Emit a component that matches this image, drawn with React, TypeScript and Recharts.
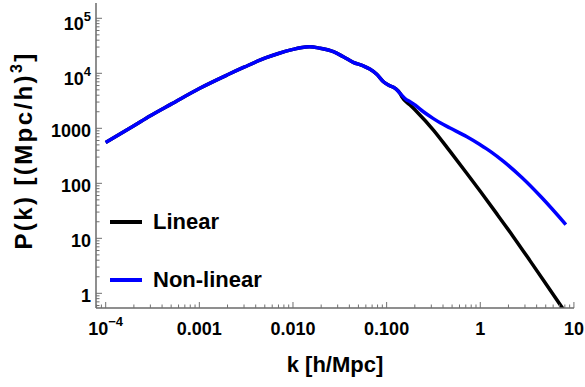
import React from "react";
import { LineChart, Line, XAxis, YAxis, Legend } from "recharts";

// ---- data ----
// shared part of both spectra (k in h/Mpc, P in (Mpc/h)^3)
const sharedK = [0.0001, 0.0002, 0.0003, 0.0005, 0.001, 0.002, 0.003, 0.005, 0.007, 0.01, 0.012, 0.015, 0.0195, 0.027, 0.0345, 0.044, 0.0565, 0.0667, 0.0785, 0.0925, 0.1045, 0.1233, 0.139];
const sharedP = [550, 1110, 1690, 2750, 5300, 9400, 12900, 18800, 22900, 27200, 29200, 30500, 28500, 24700, 20000, 15850, 13600, 11800, 9600, 7030, 6120, 5340, 4330];

const linearTailK = [0.145, 0.178, 0.21, 0.316, 0.476, 0.72, 1.0, 1.51, 2.27, 3.42, 7.45, 8.2];
const linearTailP = [3760, 2650, 2000, 930, 380, 151, 71.6, 27.5, 10.5, 3.85, 0.556, 0.44];

const nonlinearTailK = [0.164, 0.178, 0.201, 0.247, 0.316, 0.373, 0.476, 0.72, 1.0, 1.28, 1.77, 2.8, 4.5, 8.2];
const nonlinearTailP = [3270, 3050, 2650, 2000, 1500, 1260, 1012, 700, 501, 381, 250, 126, 55.7, 17.8];

const seriesNames = ["Linear", "Non-linear"];
const seriesColors = ["#000000", "#0000ff"];

const xMajorTicks = [0.0001, 0.001, 0.01, 0.1, 1, 10];
const xTickBase = ["10", "0.001", "0.010", "0.100", "1", "10"];
const xTickExp = ["\u22124", "", "", "", "", ""];

const yMajorTicks = [1, 10, 100, 1000, 10000, 100000];
const yTickBase = ["1", "10", "100", "1000", "10", "10"];
const yTickExp = ["", "", "", "", "4", "5"];

const minorMultipliers = [2, 3, 4, 5, 6, 7, 8, 9];
const xDecades = [0.00001, 0.0001, 0.001, 0.01, 0.1, 1];
const yDecades = [0.1, 1, 10, 100, 1000, 10000, 100000];

const xDomain: [number, number] = [7.88e-5, 10.02];
const yDomain: [number, number] = [0.541, 189700];

const xMinorTicks = xDecades
  .flatMap((d) => minorMultipliers.map((m) => +(d * m).toPrecision(3)))
  .filter((v) => v >= xDomain[0] && v <= xDomain[1]);
const yMinorTicks = yDecades
  .flatMap((d) => minorMultipliers.map((m) => +(d * m).toPrecision(3)))
  .filter((v) => v >= yDomain[0] && v <= yDomain[1]);

const xAllTicks = [...xMajorTicks, ...xMinorTicks].sort((a, b) => a - b);
const yAllTicks = [...yMajorTicks, ...yMinorTicks].sort((a, b) => a - b);

const linearAllP = [...sharedP, ...linearTailP];
const nonlinearAllP = [...sharedP, ...nonlinearTailP];
const linearData = [...sharedK, ...linearTailK].map((k, i) => ({ k, p: linearAllP[i] }));
const nonlinearData = [...sharedK, ...nonlinearTailK].map((k, i) => ({ k, p: nonlinearAllP[i] }));

const FONT = "'Liberation Sans', Arial, Helvetica, sans-serif";
const FRAME = "#6a6a6a";
const TICK = "#707070";
const MAJOR_LEN = 6;
const MINOR_LEN = 3.5;

const BottomTick = (props: any) => {
  const { x, y, payload } = props;
  const idx = xMajorTicks.indexOf(payload.value);
  const major = idx >= 0;
  return (
    <g>
      <line x1={x} y1={y} x2={x} y2={y - (major ? MAJOR_LEN : MINOR_LEN)} stroke={TICK} strokeWidth={1} />
      {major && (
        <text x={x} y={y + 27} textAnchor="middle" fontFamily={FONT} fontWeight="bold" fontSize={18} fill="#000">
          {xTickBase[idx]}
          {xTickExp[idx] && (
            <tspan dy={-9} fontSize={13}>
              {xTickExp[idx]}
            </tspan>
          )}
        </text>
      )}
    </g>
  );
};

const TopTick = (props: any) => {
  const { x, y, payload } = props;
  const major = xMajorTicks.indexOf(payload.value) >= 0;
  return <line x1={x} y1={y} x2={x} y2={y + (major ? MAJOR_LEN : MINOR_LEN)} stroke={TICK} strokeWidth={1} />;
};

const LeftTick = (props: any) => {
  const { x, y, payload } = props;
  const idx = yMajorTicks.indexOf(payload.value);
  const major = idx >= 0;
  const hasExp = major && yTickExp[idx] !== "";
  return (
    <g>
      <line x1={x} y1={y} x2={x + (major ? MAJOR_LEN : MINOR_LEN)} y2={y} stroke={TICK} strokeWidth={1} />
      {major && (
        <text x={x - 5} y={y + (hasExp ? 11.5 : 9)} textAnchor="end" fontFamily={FONT} fontWeight="bold" fontSize={18} fill="#000">
          {yTickBase[idx]}
          {hasExp && (
            <tspan dy={-9} fontSize={13}>
              {yTickExp[idx]}
            </tspan>
          )}
        </text>
      )}
    </g>
  );
};

const RightTick = (props: any) => {
  const { x, y, payload } = props;
  const major = yMajorTicks.indexOf(payload.value) >= 0;
  return <line x1={x} y1={y} x2={x - (major ? MAJOR_LEN : MINOR_LEN)} y2={y} stroke={TICK} strokeWidth={1} />;
};

const XLabel = (props: any) => {
  const vb = props.viewBox || { x: 96, y: 308, width: 478, height: 79 };
  return (
    <text x={vb.x + vb.width / 2} y={vb.y + 64} textAnchor="middle" fontFamily={FONT} fontWeight="bold" fontSize={22} fill="#000">
      k [h/Mpc]
    </text>
  );
};

const YLabel = (props: any) => {
  const vb = props.viewBox || { x: 0, y: 3, width: 96, height: 305 };
  const cx = vb.x + 32;
  const cy = vb.y + vb.height / 2 - 5;
  return (
    <text transform={`translate(${cx},${cy}) rotate(-90)`} textAnchor="middle" fontFamily={FONT} fontWeight="bold" fontSize={24} letterSpacing={2.4} fill="#000">
      P(k) [(Mpc/h)
      <tspan dy={-10} fontSize={16}>
        3
      </tspan>
      <tspan dy={10}>]</tspan>
    </text>
  );
};

const LegendContent = (props: any) => {
  const payload = props.payload || [];
  return (
    <div style={{ fontFamily: FONT, fontWeight: "bold", fontSize: 22 }}>
      {payload.map((entry: any, i: number) => (
        <div key={i} style={{ display: "flex", alignItems: "center", height: 58, lineHeight: "58px" }}>
          <span style={{ display: "inline-block", width: 32, height: 4, background: entry.color }} />
          <span style={{ marginLeft: 11, color: "#000" }}>{entry.value}</span>
        </div>
      ))}
    </div>
  );
};

export default function App() {
  return (
    <div style={{ width: 585, height: 387, background: "#fff" }}>
      <style>{"body{margin:0;background:#fff}"}</style>
      <LineChart width={585} height={387} margin={{ top: 3, right: 11, bottom: 0, left: 0 }}>
        <XAxis
          xAxisId="bottom"
          dataKey="k"
          type="number"
          scale="log"
          domain={xDomain}
          allowDataOverflow
          ticks={xAllTicks}
          interval={0}
          tickSize={0}
          tickMargin={0}
          tickLine={false}
          tick={<BottomTick />}
          axisLine={{ stroke: FRAME, strokeWidth: 1.5 }}
          height={79}
          orientation="bottom"
          label={(p: any) => <XLabel {...p} />}
        />
        <XAxis
          xAxisId="top"
          type="number"
          scale="log"
          domain={xDomain}
          allowDataOverflow
          ticks={xAllTicks}
          interval={0}
          tickSize={0}
          tickMargin={0}
          tickLine={false}
          tick={<TopTick />}
          axisLine={{ stroke: FRAME, strokeWidth: 1.5 }}
          height={0}
          orientation="top"
        />
        <YAxis
          yAxisId="left"
          type="number"
          scale="log"
          domain={yDomain}
          allowDataOverflow
          ticks={yAllTicks}
          interval={0}
          tickSize={0}
          tickMargin={0}
          tickLine={false}
          tick={<LeftTick />}
          axisLine={{ stroke: FRAME, strokeWidth: 1.5 }}
          width={96}
          orientation="left"
          label={(p: any) => <YLabel {...p} />}
        />
        <YAxis
          yAxisId="right"
          type="number"
          scale="log"
          domain={yDomain}
          allowDataOverflow
          ticks={yAllTicks}
          interval={0}
          tickSize={0}
          tickMargin={0}
          tickLine={false}
          tick={<RightTick />}
          axisLine={{ stroke: FRAME, strokeWidth: 1.5 }}
          width={0}
          orientation="right"
        />
        <Legend
          layout="vertical"
          align="center"
          verticalAlign="middle"
          content={<LegendContent />}
          wrapperStyle={{ position: "absolute", left: 110, top: 193, width: 200, height: 116 }}
        />
        <Line
          xAxisId="bottom"
          yAxisId="left"
          data={linearData}
          dataKey="p"
          name={seriesNames[0]}
          stroke={seriesColors[0]}
          strokeWidth={3.5}
          dot={false}
          type="monotone"
          isAnimationActive={false}
        />
        <Line
          xAxisId="bottom"
          yAxisId="left"
          data={nonlinearData}
          dataKey="p"
          name={seriesNames[1]}
          stroke={seriesColors[1]}
          strokeWidth={3.5}
          dot={false}
          type="monotone"
          isAnimationActive={false}
        />
      </LineChart>
    </div>
  );
}
